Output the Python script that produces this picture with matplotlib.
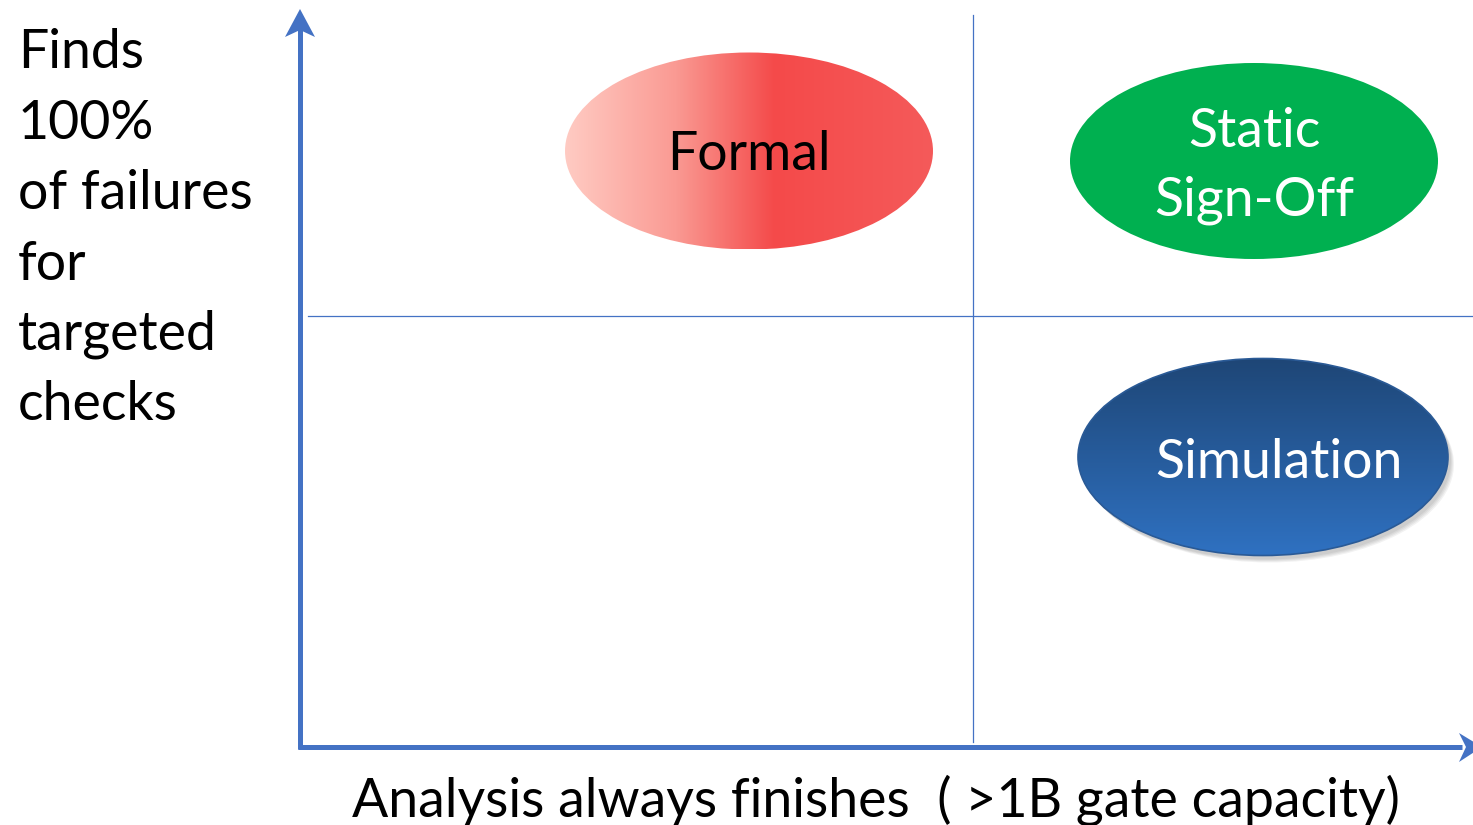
import numpy as np
import matplotlib
matplotlib.use("Agg")
import matplotlib.pyplot as plt
from matplotlib.patches import Ellipse, Polygon
from matplotlib.colors import LinearSegmentedColormap

plt.rcParams['font.family'] = ['Lato', 'DejaVu Sans']

# ---- data ----
bubble_names = ["Formal", "Static\nSign-Off", "Simulation"]
bubble_cx = [749, 1254, 1263]
bubble_cy = [151, 161, 457]
bubble_w = [368, 368, 370]
bubble_h = [197, 196, 197]
y_label_lines = ["Finds", "100%", "of failures", "for", "targeted", "checks"]
x_label = "Analysis always finishes  ( >1B gate capacity)"

W, H = 1473, 825
FS = 38.6
fig = plt.figure(figsize=(W / 100, H / 100), dpi=100)
ax = fig.add_axes([0, 0, 1, 1])
ax.set_xlim(0, W)
ax.set_ylim(H, 0)
ax.axis('off')

axis_col = "#4472C4"

# quadrant dividers
ax.plot([973, 973], [15, 742], color=axis_col, lw=0.9, zorder=1)
ax.plot([308, W], [316, 316], color=axis_col, lw=0.9, zorder=1)

# axes (shafts + notched heads)
ax.plot([300, 300], [749, 28], color=axis_col, lw=3.6, solid_capstyle='butt', zorder=3)
ax.add_patch(Polygon([[300, 9], [315, 37], [300, 30], [285, 37]], closed=True,
                     facecolor=axis_col, edgecolor='none', zorder=3))
ax.plot([298, 1462], [747, 747], color=axis_col, lw=3.6, solid_capstyle='butt', zorder=3)
ax.add_patch(Polygon([[1482, 747], [1459, 733], [1466, 747], [1459, 762]], closed=True,
                     facecolor=axis_col, edgecolor='none', zorder=3))

# Formal: horizontal gradient
red_cmap = LinearSegmentedColormap.from_list(
    "red", [(0, "#FFCBC3"), (0.3, "#FA9A93"), (0.57, "#F44A4A"), (1.0, "#F55A5A")])
i = 0
e = Ellipse((bubble_cx[i], bubble_cy[i]), bubble_w[i], bubble_h[i], facecolor="none",
            edgecolor="none", zorder=4)
ax.add_patch(e)
grad = np.linspace(0, 1, 256).reshape(1, -1)
im = ax.imshow(grad, cmap=red_cmap, aspect='auto', zorder=4,
               extent=[bubble_cx[i] - bubble_w[i] / 2, bubble_cx[i] + bubble_w[i] / 2,
                       bubble_cy[i] + bubble_h[i] / 2, bubble_cy[i] - bubble_h[i] / 2])
im.set_clip_path(e)
ax.text(bubble_cx[i], bubble_cy[i] + 4, bubble_names[i], ha='center', va='center',
        fontsize=FS, color="black", zorder=6)

# Static Sign-Off: solid green
i = 1
ax.add_patch(Ellipse((bubble_cx[i], bubble_cy[i]), bubble_w[i], bubble_h[i],
                     facecolor="#00B050", edgecolor="none", zorder=4))
ax.text(bubble_cx[i], bubble_cy[i] + 5, bubble_names[i], ha='center', va='center',
        fontsize=FS, color="white", zorder=6, linespacing=1.5)

# Simulation: vertical gradient + shadow
i = 2
for k in range(4):
    ax.add_patch(Ellipse((bubble_cx[i] + 3 + k, bubble_cy[i] + 4 + k), bubble_w[i], bubble_h[i],
                         facecolor="black", alpha=0.05, edgecolor="none", zorder=3))
blue_cmap = LinearSegmentedColormap.from_list("blue", ["#1E4676", "#2F71C1"])
e = Ellipse((bubble_cx[i], bubble_cy[i]), bubble_w[i], bubble_h[i], facecolor="none",
            edgecolor="#2A5A96", lw=1.2, zorder=5)
ax.add_patch(e)
grad = np.linspace(0, 1, 256).reshape(-1, 1)
im = ax.imshow(grad, cmap=blue_cmap, aspect='auto', zorder=4,
               extent=[bubble_cx[i] - bubble_w[i] / 2, bubble_cx[i] + bubble_w[i] / 2,
                       bubble_cy[i] + bubble_h[i] / 2, bubble_cy[i] - bubble_h[i] / 2])
im.set_clip_path(e)
ax.text(bubble_cx[i] + 16, bubble_cy[i] + 5, bubble_names[i], ha='center', va='center',
        fontsize=FS, color="white", zorder=6)

# y label
for j, line in enumerate(y_label_lines):
    ax.text(18, 53 + j * 70.4, line, ha='left', va='center', fontsize=FS, color="black")

# x label
ax.text(876, 800, x_label, ha='center', va='center', fontsize=FS, color="black")

ax.set_xlim(0, W)
ax.set_ylim(H, 0)
fig.savefig("out.png", dpi=100)
